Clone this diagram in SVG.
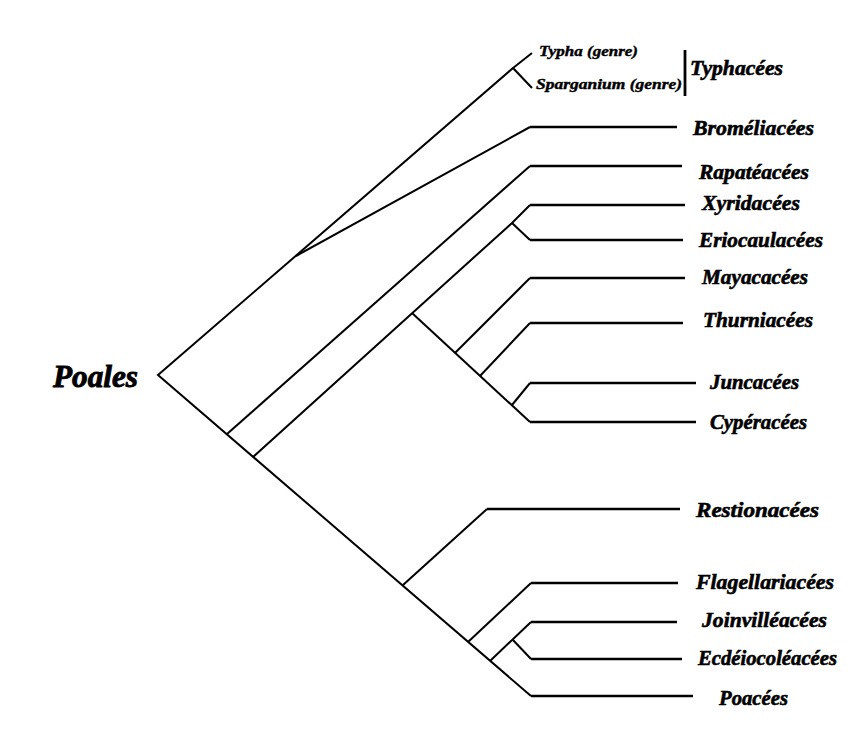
<svg xmlns="http://www.w3.org/2000/svg" width="850" height="750" viewBox="0 0 850 750">
<style>
.bg{fill:#ffffff}
.br{fill:none;stroke:#000;stroke-width:2;stroke-linejoin:miter;stroke-linecap:butt}
.hz{fill:none;stroke:#000;stroke-width:2.6}
.lbl{font-family:"Liberation Serif","DejaVu Serif",serif;font-style:italic;font-weight:bold;font-size:21px;fill:#000;stroke:#000;stroke-width:0.6}
.sm{font-size:14px;stroke-width:0.4}
.big{font-size:32px;stroke-width:0.9}
</style>
<rect class="bg" x="0" y="0" width="850" height="750"/>
<g id="connectors">
<polyline class="br" points="513,68 158,375 531,696"/>
<polyline class="br" points="532,53 513,68 532,88"/>
<polyline class="br" points="296,256 530,127"/>
<line class="hz" x1="530" y1="127" x2="677" y2="127"/>
<polyline class="br" points="227,434 530,166"/>
<line class="hz" x1="530" y1="166" x2="682" y2="166"/>
<polyline class="br" points="253,457 512,223 530,205"/>
<line class="hz" x1="530" y1="205" x2="685" y2="205"/>
<polyline class="br" points="512,223 530,240"/>
<line class="hz" x1="530" y1="240" x2="683" y2="240"/>
<polyline class="br" points="412,313 530,422"/>
<line class="hz" x1="530" y1="422" x2="696" y2="422"/>
<polyline class="br" points="455,353 530,278"/>
<line class="hz" x1="530" y1="278" x2="685" y2="278"/>
<polyline class="br" points="480,376 530,323"/>
<line class="hz" x1="530" y1="323" x2="683" y2="323"/>
<polyline class="br" points="512,405 530,383"/>
<line class="hz" x1="530" y1="383" x2="696" y2="383"/>
<polyline class="br" points="403,585 487,509"/>
<line class="hz" x1="487" y1="509" x2="680" y2="509"/>
<polyline class="br" points="468,642 531,583"/>
<line class="hz" x1="531" y1="583" x2="678" y2="583"/>
<polyline class="br" points="490,661 531,622"/>
<line class="hz" x1="531" y1="622" x2="677" y2="622"/>
<polyline class="br" points="513,640 531,659"/>
<line class="hz" x1="531" y1="659" x2="682" y2="659"/>
<line class="hz" x1="531" y1="696" x2="693" y2="696"/>
<line x1="685" y1="50" x2="685" y2="96" stroke="#000" stroke-width="2.8"/>
</g>
<g id="poales"><text class="lbl big" x="53" y="387" textLength="85" lengthAdjust="spacingAndGlyphs">Poales</text></g>
<g id="typha"><text class="lbl sm" x="539" y="56" textLength="99" lengthAdjust="spacingAndGlyphs">Typha (genre)</text></g>
<g id="sparganium"><text class="lbl sm" x="536" y="89" textLength="146" lengthAdjust="spacingAndGlyphs">Sparganium (genre)</text></g>
<g id="typhacees"><text class="lbl" x="690" y="75" textLength="93" lengthAdjust="spacingAndGlyphs">Typhacées</text></g>
<g id="bromeliacees"><text class="lbl" x="693" y="135" textLength="121" lengthAdjust="spacingAndGlyphs">Broméliacées</text></g>
<g id="rapateacees"><text class="lbl" x="699" y="179" textLength="110" lengthAdjust="spacingAndGlyphs">Rapatéacées</text></g>
<g id="xyridacees"><text class="lbl" x="702" y="210" textLength="98" lengthAdjust="spacingAndGlyphs">Xyridacées</text></g>
<g id="eriocaulacees"><text class="lbl" x="699" y="247" textLength="124" lengthAdjust="spacingAndGlyphs">Eriocaulacées</text></g>
<g id="mayacacees"><text class="lbl" x="702" y="284" textLength="106" lengthAdjust="spacingAndGlyphs">Mayacacées</text></g>
<g id="thurniacees"><text class="lbl" x="703" y="327" textLength="110" lengthAdjust="spacingAndGlyphs">Thurniacées</text></g>
<g id="juncacees"><text class="lbl" x="710" y="389" textLength="89" lengthAdjust="spacingAndGlyphs">Juncacées</text></g>
<g id="cyperacees"><text class="lbl" x="710" y="429" textLength="97" lengthAdjust="spacingAndGlyphs">Cypéracées</text></g>
<g id="restionacees"><text class="lbl" x="696" y="517" textLength="123" lengthAdjust="spacingAndGlyphs">Restionacées</text></g>
<g id="flagellariacees"><text class="lbl" x="696" y="589" textLength="138" lengthAdjust="spacingAndGlyphs">Flagellariacées</text></g>
<g id="joinvilleacees"><text class="lbl" x="702" y="627" textLength="125" lengthAdjust="spacingAndGlyphs">Joinvilléacées</text></g>
<g id="ecdeiocoleacees"><text class="lbl" x="698" y="665" textLength="139" lengthAdjust="spacingAndGlyphs">Ecdéiocoléacées</text></g>
<g id="poacees"><text class="lbl" x="719" y="705" textLength="69" lengthAdjust="spacingAndGlyphs">Poacées</text></g>
</svg>
